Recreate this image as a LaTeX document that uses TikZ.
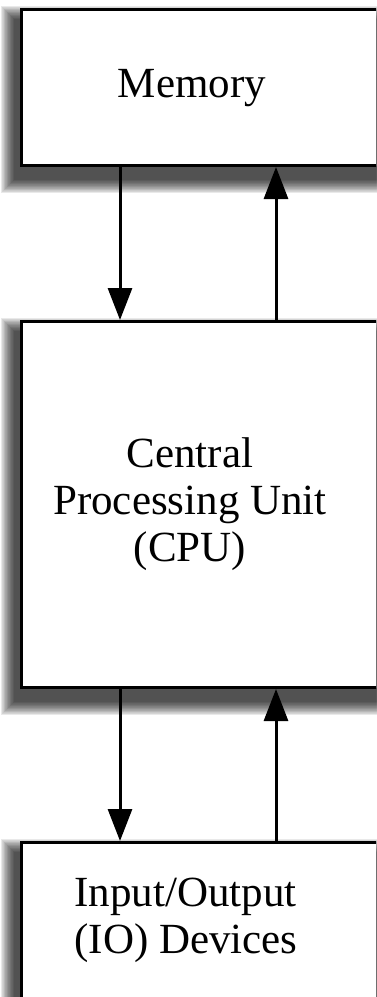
\documentclass[tikz,border=0pt]{standalone}
\usepackage{fontspec}
\setmainfont{Liberation Serif}
\usetikzlibrary{arrows.meta,calc}

\pgfdeclarelayer{background}
\pgfsetlayers{background,main}

\tikzset{
  unitbox/.style={draw=black, line width=3pt, fill=white, rectangle,
    inner sep=0pt, anchor=north west},
  boxlabel/.style={font=\fontsize{43}{47}\selectfont, align=center,
    inner sep=0pt, anchor=base},
  flow/.style={line width=3pt, -{Triangle[width=24pt,length=32pt]}},
  shadowlayer/.style={fill=black, opacity=0.045}
}

% soft drop shadow below and to the left of a box node
\newcommand{\softshadow}[1]{%
  \foreach \r in {0.6,1.2,...,14.4}{%
    \fill[shadowlayer]
      ($(#1.north west)+(-5-\r,12-\r)$) rectangle ($(#1.south east)+(-5+\r,12+\r)$);
  }%
}

\begin{document}
\begin{tikzpicture}[x=1pt,y=-1pt]
  \useasboundingbox (0,0) rectangle (376,997);
  \clip (0,0) rectangle (376,997);

  % the three units (right edges run past the page)
  \node[unitbox, minimum width=400pt, minimum height=156pt] (mem) at (20,8) {};
  \node[unitbox, minimum width=400pt, minimum height=366pt] (cpu) at (20,320) {};
  \node[unitbox, minimum width=400pt, minimum height=200pt] (io)  at (20,841) {};

  \begin{pgfonlayer}{background}
    \fill[white] (0,0) rectangle (376,997);
    \softshadow{mem}
    \softshadow{cpu}
    \softshadow{io}
  \end{pgfonlayer}

  % labels (anchored at the baseline of their last line)
  \node[boxlabel] (memtext) at (192,97) {Memory};
  \node[boxlabel] (cputext) at (190,561) {Central\\Processing Unit\\(CPU)};
  \node[boxlabel, align=left] (iotext) at (186,953) {Input/Output\\(IO) Devices};

  % columns of the connectors
  \coordinate (down) at (120,0);
  \coordinate (up) at (276,0);

  % memory <-> cpu
  \draw[flow] (mem.south -| down) -- (cpu.north -| down);
  \draw[flow] (cpu.north -| up) -- (mem.south -| up);

  % cpu <-> io
  \draw[flow] (cpu.south -| down) -- (io.north -| down);
  \draw[flow] (io.north -| up) -- (cpu.south -| up);
\end{tikzpicture}
\end{document}
